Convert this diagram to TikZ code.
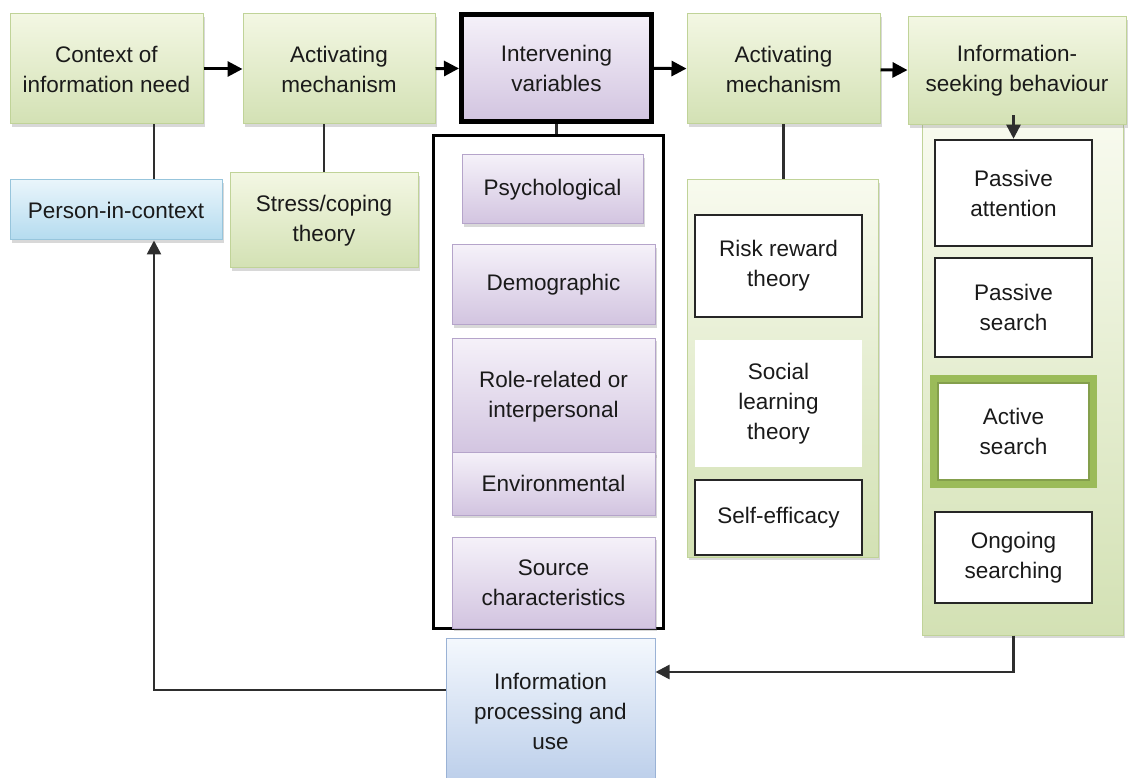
\documentclass[tikz,border=0pt]{standalone}
\usepackage{fontspec}
\setmainfont{Liberation Sans}
\usetikzlibrary{arrows.meta,shadows}

\definecolor{grnTop}{HTML}{F3F7E3}
\definecolor{grnBot}{HTML}{D3E1B4}
\definecolor{grnEdge}{HTML}{C0D398}
\definecolor{lavTop}{HTML}{F5F1F9}
\definecolor{lavBot}{HTML}{D2C4E0}
\definecolor{lavEdge}{HTML}{B5A4CA}
\definecolor{bluTop}{HTML}{E9F5FB}
\definecolor{bluBot}{HTML}{B4DBEF}
\definecolor{bluEdge}{HTML}{97C5DC}
\definecolor{ipTop}{HTML}{F4F8FD}
\definecolor{ipBot}{HTML}{BBCEEA}
\definecolor{ipEdge}{HTML}{9AB2D5}
\definecolor{actGreen}{HTML}{9BBB59}
\definecolor{ink}{HTML}{1A1A1A}
\definecolor{wire}{HTML}{2E2E2E}

\tikzset{
  base/.style={rectangle, inner sep=0pt, align=center, text=ink,
    font=\fontsize{22.5}{30}\selectfont},
  sz/.style 2 args={minimum width=#1pt, minimum height=#2pt},
  boxshadow/.style={drop shadow={opacity=0.3, shadow xshift=1.5pt, shadow yshift=-3pt}},
  greenbox/.style={base, boxshadow, draw=grnEdge, line width=1pt,
    top color=grnTop, bottom color=grnBot},
  lavbox/.style={base, boxshadow, draw=lavEdge, line width=1pt,
    top color=lavTop, bottom color=lavBot},
  bluebox/.style={base, boxshadow, draw=bluEdge, line width=1pt,
    top color=bluTop, bottom color=bluBot},
  procbox/.style={base, draw=ipEdge, line width=1pt,
    top color=ipTop, bottom color=ipBot},
  panel/.style={base, boxshadow, draw=grnEdge, line width=1pt,
    top color=grnTop!60!white, bottom color=grnBot},
  plainbox/.style={base, draw=black!85, line width=2.5pt, fill=white},
  flow/.style={line width=3pt, draw=black, -{Triangle[length=15pt,width=15pt]}},
  link/.style={line width=2.5pt, draw=wire},
  back/.style={line width=2.5pt, draw=wire, -{Triangle[length=14pt,width=14pt]}}
}

\begin{document}
\begin{tikzpicture}[x=1pt, y=-1pt]
  \useasboundingbox[fill=white] (0,0) rectangle (1128,778);

  % column panels and frame behind the boxes
  \node[draw=black, line width=3pt, sz={230}{492}, inner sep=0pt] (frame) at (548,382) {};
  \node[panel, sz={191}{377}] (thy) at (782.5,368.5) {};
  \node[panel, sz={201}{510}] (modes) at (1022.5,380) {};

  % top row
  \node[greenbox, sz={193}{110}] (ctx) at (106.5,69) {Context of\\information need};
  \node[greenbox, sz={192}{110}] (act1) at (339,69) {Activating\\mechanism};
  \node[base, draw=black, line width=5pt, top color=lavTop, bottom color=lavBot,
        sz={190}{107}] (iv) at (556.5,68) {Intervening\\variables};
  \node[greenbox, sz={193}{110}] (act2) at (783.5,69) {Activating\\mechanism};
  \node[greenbox, sz={218}{108}] (isb) at (1017,71) {Information-\\seeking behaviour};

  % second row, left
  \node[bluebox, sz={212}{60}] (pic) at (116,210) {Person-in-context};
  \node[greenbox, sz={188}{95}] (stress) at (324,220.5) {Stress/coping\\theory};

  % intervening variables
  \node[lavbox, sz={181}{69}] (psy) at (552.5,189.5) {Psychological};
  \node[lavbox, sz={203}{80}] (demo) at (553.5,285) {Demographic};
  \node[lavbox, sz={203}{117}] (role) at (553.5,396.5) {Role-related or\\interpersonal};
  \node[lavbox, sz={203}{63}] (env) at (553.5,483.5) {Environmental};
  \node[lavbox, sz={203}{91}] (src) at (553.5,582.5) {Source\\characteristics};

  % theories
  \node[plainbox, sz={167}{102}] (rr) at (778.5,266) {Risk reward\\theory};
  \node[base, fill=white, sz={167}{127}] (slt) at (778.5,403.5) {Social\\learning\\theory};
  \node[plainbox, sz={167}{75}] (se) at (778.5,517.5) {Self-efficacy};

  % search modes
  \node[plainbox, sz={157}{106}] (pa) at (1013.5,193) {Passive\\attention};
  \node[plainbox, sz={157}{99}] (ps) at (1013.5,307.5) {Passive\\search};
  \node[base, fill=white, draw=actGreen, line width=7pt, sz={160}{106}] (as) at (1013.5,431.5) {Active\\search};
  \draw[actGreen!85!black, line width=1.2pt]
    ([shift={(8pt,8pt)}]as.south west) rectangle ([shift={(-8pt,-8pt)}]as.north east);
  \node[plainbox, sz={157}{91}] (og) at (1013.5,557.5) {Ongoing\\searching};

  % outcome
  \node[procbox, sz={209}{146}] (ipu) at (550.5,711) {Information\\processing and\\use};

  % connectors
  \coordinate (colL) at (154,0);
  \draw[flow] (ctx) -- (act1);
  \draw[flow] (act1) -- (iv);
  \draw[flow] (iv) -- (act2);
  \draw[flow] (act2) -- (isb);
  \draw[link] (ctx.south -| colL) -- (pic.north -| colL);
  \draw[link] (act1.south -| stress.north) -- (stress.north);
  \draw[link] (iv.south) -- (iv.south |- frame.north);
  \draw[link] (act2.south) -- (act2.south |- thy.north);
  \draw[back] ([yshift=10pt]isb.south -| pa.north) -- (pa.north);
  \draw[back] (modes.south -| og.south) |- ([yshift=39pt]ipu.east);
  \draw[back] ([yshift=21pt]ipu.west) -| (pic.south -| colL);
\end{tikzpicture}
\end{document}
